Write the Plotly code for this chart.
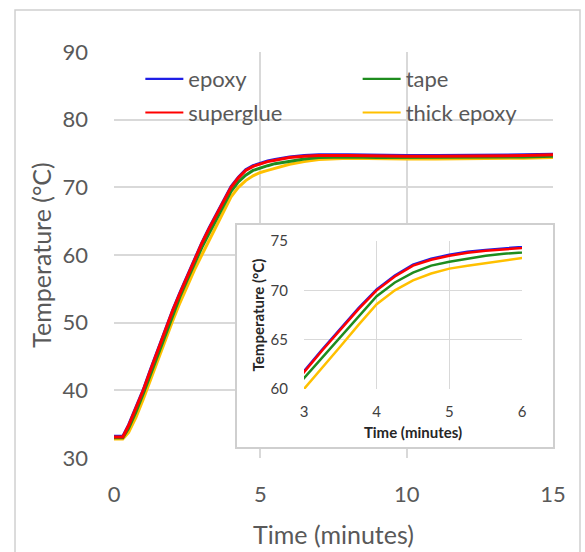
import plotly.graph_objects as go

time_min = [0, 0.3, 0.5, 0.75, 1.0, 1.25, 1.5, 1.75, 2.0, 2.25, 2.5, 2.75, 3.0, 3.25, 3.5, 3.75,
            4.0, 4.25, 4.5, 4.75, 5.0, 5.25, 5.5, 5.75, 6.0, 6.5, 7, 8, 9, 10, 11, 12, 13, 14, 15]
epoxy = [33.2, 33.2, 34.9, 37.4, 40.1, 43.1, 46.1, 49.0, 51.8, 54.4, 56.9, 59.4, 61.8, 64.0, 66.1, 68.2,
         70.1, 71.5, 72.6, 73.2, 73.6, 73.9, 74.1, 74.3, 74.5, 74.7, 74.8, 74.8, 74.7, 74.7, 74.7, 74.7, 74.8, 74.8, 74.9]
superglue = [33.1, 33.1, 34.8, 37.3, 40.0, 43.0, 46.0, 48.9, 51.7, 54.3, 56.8, 59.3, 61.7, 63.9, 66.0, 68.1,
             70.0, 71.4, 72.5, 73.1, 73.5, 73.8, 74.0, 74.2, 74.4, 74.6, 74.7, 74.7, 74.6, 74.6, 74.6, 74.6, 74.7, 74.7, 74.8]
tape = [33.0, 33.0, 34.4, 36.8, 39.5, 42.4, 45.4, 48.3, 51.1, 53.8, 56.3, 58.8, 61.1, 63.2, 65.3, 67.4,
        69.4, 70.8, 71.8, 72.5, 72.9, 73.2, 73.5, 73.7, 73.9, 74.2, 74.4, 74.5, 74.4, 74.4, 74.4, 74.4, 74.5, 74.5, 74.6]
thick_epoxy = [32.8, 32.8, 33.8, 36.0, 38.7, 41.6, 44.6, 47.5, 50.2, 52.9, 55.4, 57.8, 60.0, 62.1, 64.3, 66.5,
               68.6, 70.0, 71.0, 71.7, 72.2, 72.5, 72.8, 73.1, 73.4, 73.8, 74.1, 74.3, 74.2, 74.2, 74.2, 74.2, 74.3, 74.3, 74.4]

series_names = ["epoxy", "tape", "superglue", "thick epoxy"]
colors = {"epoxy": "#1f1fe6", "tape": "#1e8c1e", "superglue": "#ff0000", "thick epoxy": "#ffc000"}
values = {"epoxy": epoxy, "tape": tape, "superglue": superglue, "thick epoxy": thick_epoxy}
legend_of = {"epoxy": "legend", "superglue": "legend", "tape": "legend2", "thick epoxy": "legend2"}
draw_order = ["epoxy", "thick epoxy", "tape", "superglue"]
rank = {"epoxy": 1, "superglue": 2, "tape": 1, "thick epoxy": 2}

FONT = "Lato"
GRAY = "#595959"
GRID = "#d9d9d9"

fig = go.Figure()
for n in draw_order:
    fig.add_trace(go.Scatter(x=time_min, y=values[n], mode="lines", name=n,
                             line=dict(color=colors[n], width=3), showlegend=False,
                             xaxis="x", yaxis="y"))
# legend entries (thinner line samples)
for n in series_names:
    fig.add_trace(go.Scatter(x=[None], y=[None], mode="lines", name=n,
                             line=dict(color=colors[n], width=2.2),
                             legend=legend_of[n], legendrank=rank[n], legendgroup=n,
                             xaxis="x", yaxis="y", hoverinfo="skip"))
# inset frame subplot (empty)
fig.add_trace(go.Scatter(x=[None], y=[None], xaxis="x2", yaxis="y2", showlegend=False, hoverinfo="skip"))
for n in draw_order:
    fig.add_trace(go.Scatter(x=time_min, y=values[n], mode="lines", name=n,
                             line=dict(color=colors[n], width=2.5), showlegend=False,
                             xaxis="x3", yaxis="y3"))

fig.update_layout(
    width=585, height=552,
    margin=dict(l=114, r=32, t=52, b=94),
    paper_bgcolor="white", plot_bgcolor="white",
    font=dict(family=FONT, color=GRAY),
    xaxis=dict(range=[0, 15], tickvals=[0, 5, 10, 15], showgrid=True, gridcolor=GRID, gridwidth=1.5,
               zeroline=False, showline=False, tickfont=dict(size=22, color=GRAY),
               ticklabelstandoff=21, domain=[0, 1], automargin=False,
               title=dict(text="Time (minutes)", font=dict(size=25, color=GRAY), standoff=20)),
    yaxis=dict(range=[30, 90], tickvals=[30, 40, 50, 60, 70, 80, 90], showgrid=True, gridcolor=GRID,
               gridwidth=1.5, zeroline=False, showline=False, tickfont=dict(size=22, color=GRAY),
               ticklabelstandoff=25, domain=[0, 1], automargin=False,
               title=dict(text="Temperature (°C)", font=dict(size=25, color=GRAY), standoff=3)),
    xaxis2=dict(domain=[0.2802, 1.0], range=[0, 1], anchor="y2", showgrid=False, zeroline=False,
                showticklabels=False, showline=True, mirror=True, linecolor="#cfcfcf", linewidth=1.5,
                ticks="", fixedrange=True, automargin=False),
    yaxis2=dict(domain=[0.0271, 0.5739], range=[0, 1], anchor="x2", showgrid=False, zeroline=False,
                showticklabels=False, showline=True, mirror=True, linecolor="#cfcfcf", linewidth=1.5,
                ticks="", fixedrange=True, automargin=False),
    xaxis3=dict(domain=[0.4328, 0.9294], range=[3, 6], tickvals=[3, 4, 5, 6], anchor="y3",
                showgrid=True, gridcolor=GRID, gridwidth=1.2, zeroline=False, showline=False,
                tickfont=dict(size=15, color="#404040"), ticklabelstandoff=12, automargin=False,
                title=dict(text="<b>Time (minutes)</b>", font=dict(size=15, color="#262626"), standoff=8)),
    yaxis3=dict(domain=[0.170, 0.5345], range=[60, 75], tickvals=[60, 65, 70, 75], anchor="x3",
                showgrid=True, gridcolor=GRID, gridwidth=1.2, zeroline=False, showline=False,
                tickfont=dict(size=15, color="#404040"), ticklabelstandoff=15, automargin=False,
                title=dict(text="<b>Temperature (°C)</b>", font=dict(size=15, color="#262626"), standoff=2)),
    legend=dict(x=0.06, y=0.985, xanchor="left", yanchor="top", bgcolor="rgba(0,0,0,0)",
                font=dict(size=22, color=GRAY), tracegroupgap=2, itemwidth=38, traceorder="grouped"),
    legend2=dict(x=0.555, y=0.985, xanchor="left", yanchor="top", bgcolor="rgba(0,0,0,0)",
                 font=dict(size=22, color=GRAY), tracegroupgap=2, itemwidth=38, traceorder="grouped"),
    shapes=[dict(type="rect", xref="paper", yref="paper", x0=-0.2255, x1=1.0615, y0=-0.26, y1=1.1034,
                 line=dict(color="#d0d0d0", width=1.5), fillcolor="rgba(0,0,0,0)", layer="below")],
    showlegend=True,
)

fig.write_html("out.html")
